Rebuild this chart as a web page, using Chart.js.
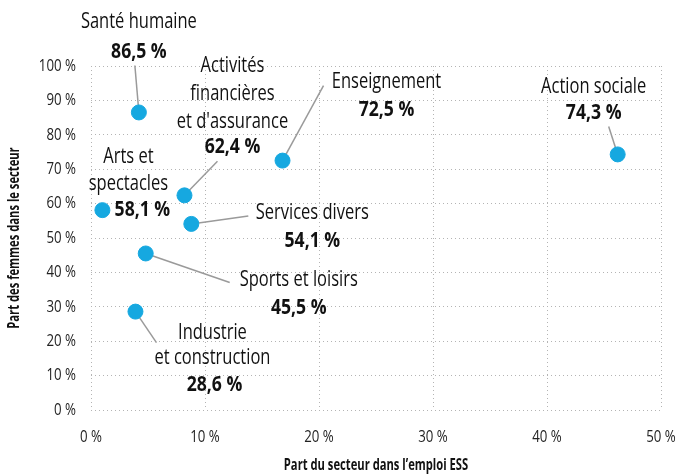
<!DOCTYPE html>
<html>
<head>
<meta charset="utf-8">
<script src="https://cdn.jsdelivr.net/npm/chart.js@4/dist/chart.umd.min.js"></script>
<style>
  html, body { margin: 0; padding: 0; background: #fff; }
  #wrap { width: 682px; height: 474px; }
</style>
</head>
<body>
<div id="wrap"><canvas id="chart" width="682" height="474"></canvas></div>
<script>
(function(){
    'use strict';

    // data
    const sectors = ['Santé humaine', 'Activités financières et d\'assurance', 'Enseignement', 'Action sociale',
        'Arts et spectacles', 'Services divers', 'Sports et loisirs', 'Industrie et construction'];
    const employmentShare = [4.2, 8.2, 16.8, 46.2, 1.0, 8.8, 4.8, 3.9];
    const womenShare = [86.5, 62.4, 72.5, 74.3, 58.1, 54.1, 45.5, 28.6];
    const nameLines = [
        ['Santé humaine'],
        ['Activités', 'financières', 'et d\'assurance'],
        ['Enseignement'],
        ['Action sociale'],
        ['Arts et', 'spectacles'],
        ['Services divers'],
        ['Sports et loisirs'],
        ['Industrie', 'et construction']
    ];
    const xTicks = [0, 10, 20, 30, 40, 50];
    const yTicks = [0, 10, 20, 30, 40, 50, 60, 70, 80, 90, 100];
    const xTitle = 'Part du secteur dans l\u2019emploi ESS';
    const yTitle = 'Part des femmes dans le secteur';

    // label placement relative to each point (pixels)
    const labelStyle = [
        { dx: 0, dy: [-91], vdx: 0, vdy: -61, lead: [-4, -47] },
        { dx: 48, dy: [-130, -102, -74], vdx: 48, vdy: -49, lead: [33, -34] },
        { dx: 104, dy: [-79], vdx: 104, vdy: -51, lead: [41, -75] },
        { dx: -24, dy: [-68], vdx: -24, vdy: -42, lead: [-9, -28] },
        { dx: 26, dy: [-53, -26], vdx: 40, vdy: 0, lead: null },
        { dx: 121, dy: [-11], vdx: 121, vdy: 17, lead: [57, -8] },
        { dx: 153, dy: [26], vdx: 153, vdy: 54, lead: [84, 29] },
        { dx: 77, dy: [21, 46], vdx: 79, vdy: 73, lead: [21, 31] }
    ];

    const fontFamily = '"Open Sans", "DejaVu Sans Condensed", sans-serif';
    const dotColor = 'rgb(22, 168, 224)';
    const gridColor = '#b4b4b4';

    const fmt = v => String(v).replace('.', ',') + ' %';

    // narrow text, the reference uses a condensed face
    function drawText(ctx, text, x, y, align, sx){
        ctx.save();
        ctx.translate(x, y);
        ctx.scale(sx, 1);
        ctx.textAlign = align;
        ctx.fillText(text, 0, 0);
        ctx.restore();
    }

    const axisText = {
        id: 'axisText',
        afterDraw(chart){
            const ctx = chart.ctx;
            const xs = chart.scales.x;
            const ys = chart.scales.y;
            ctx.save();
            ctx.fillStyle = '#222';
            ctx.textBaseline = 'middle';
            ctx.font = '17px ' + fontFamily;
            xTicks.forEach(function(v){
                drawText(ctx, v + ' %', xs.getPixelForValue(v), 437, 'center', 0.78);
            });
            yTicks.forEach(function(v){
                drawText(ctx, v + ' %', 76, ys.getPixelForValue(v), 'right', 0.78);
            });
            ctx.fillStyle = '#111';
            ctx.font = 'bold 16px ' + fontFamily;
            drawText(ctx, xTitle, 376, 465, 'center', 0.7);
            ctx.save();
            ctx.translate(14, (ys.top + ys.bottom) / 2);
            ctx.rotate(-Math.PI / 2);
            drawText(ctx, yTitle, 0, 0, 'center', 0.7);
            ctx.restore();
            ctx.restore();
        }
    };

    const pointLabels = {
        id: 'pointLabels',
        beforeDatasetsDraw(chart){
            const ctx = chart.ctx;
            const meta = chart.getDatasetMeta(0);
            ctx.save();
            ctx.strokeStyle = '#9a9a9a';
            ctx.lineWidth = 1.5;
            meta.data.forEach(function(pt, i){
                const s = labelStyle[i];
                if (!s.lead) return;
                ctx.beginPath();
                ctx.moveTo(pt.x + s.lead[0], pt.y + s.lead[1]);
                ctx.lineTo(pt.x, pt.y);
                ctx.stroke();
            });
            ctx.restore();
        },
        afterDatasetsDraw(chart){
            const ctx = chart.ctx;
            const meta = chart.getDatasetMeta(0);
            ctx.save();
            ctx.fillStyle = '#111';
            ctx.textBaseline = 'middle';
            meta.data.forEach(function(pt, i){
                const s = labelStyle[i];
                ctx.font = '22px ' + fontFamily;
                nameLines[i].forEach(function(line, j){
                    drawText(ctx, line, pt.x + s.dx, pt.y + s.dy[j], 'center', 0.75);
                });
                ctx.font = 'bold 22px ' + fontFamily;
                drawText(ctx, fmt(womenShare[i]), pt.x + s.vdx, pt.y + s.vdy, 'center', 0.8);
            });
            ctx.restore();
        }
    };

    const ctx = document.querySelector('#chart');

    new Chart(ctx, {
        type: 'scatter',
        data: {
            datasets: [
                {
                    label: 'Secteurs',
                    data: employmentShare.map((x, i) => ({ x: x, y: womenShare[i], name: sectors[i] })),
                    backgroundColor: dotColor,
                    borderColor: dotColor,
                    pointRadius: 7.5,
                    pointHoverRadius: 7.5
                }
            ]
        },
        options: {
            responsive: false,
            animation: false,
            layout: { padding: { top: 66, right: 21, left: 0, bottom: 0 } },
            plugins: {
                legend: { display: false },
                tooltip: { enabled: false }
            },
            scales: {
                x: {
                    min: 0,
                    max: 50,
                    afterBuildTicks: scale => { scale.ticks = xTicks.map(v => ({ value: v })); },
                    afterFit: scale => { scale.height = 64; },
                    grid: { color: gridColor, drawTicks: false },
                    border: { display: false, dash: [1, 3] },
                    ticks: { display: false }
                },
                y: {
                    min: 0,
                    max: 100,
                    afterBuildTicks: scale => { scale.ticks = yTicks.map(v => ({ value: v })); },
                    afterFit: scale => { scale.width = 91; },
                    grid: { color: gridColor, drawTicks: false },
                    border: { display: false, dash: [1, 3] },
                    ticks: { display: false }
                }
            }
        },
        plugins: [pointLabels, axisText, {
            id: 'dotGrid',
            beforeInit(chart){
                chart.options.scales.x.grid.borderDash = [1, 3];
            }
        }]
    });
})();
</script>
</body>
</html>
